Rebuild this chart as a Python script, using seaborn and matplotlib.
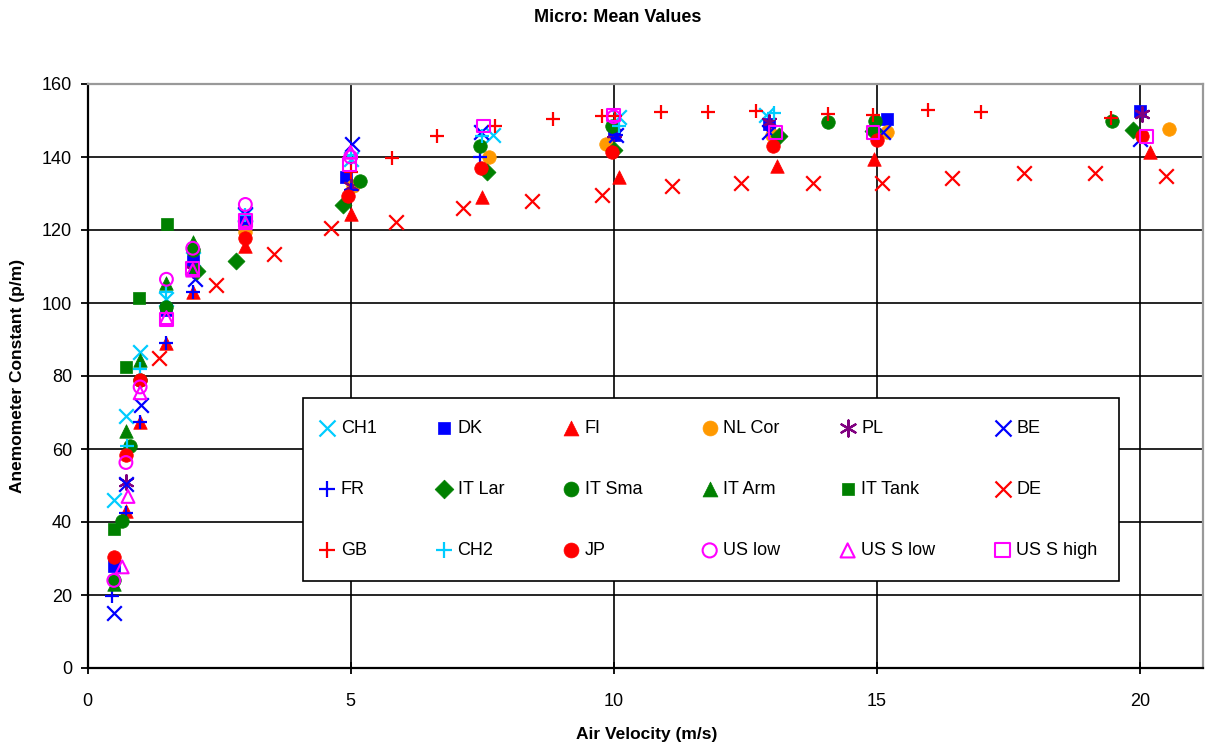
import matplotlib
matplotlib.use("Agg")
import matplotlib.pyplot as plt
import seaborn as sns

# ---------------- data ----------------
CH1_v = [0.5, 0.73, 1.0, 1.5, 2.0, 3.0, 5.0, 7.7, 10.1, 12.9]
CH1_y = [46, 69, 86.5, 101, 112, 124, 139.5, 146, 151, 151.5]

DK_v = [0.5, 1.5, 2.0, 3.0, 4.92, 10.0, 12.95, 15.2, 20.0]
DK_y = [28, 98, 111.5, 123, 134.5, 146, 149, 150.5, 152.5]

FI_v = [0.73, 1.0, 1.5, 2.0, 3.0, 5.0, 7.5, 10.1, 13.1, 14.95, 20.2]
FI_y = [43, 67.5, 89, 103, 115.5, 124.3, 129, 134.5, 137.5, 139.4, 141.3]

NL_v = [3.0, 5.05, 7.63, 9.85, 13.0, 15.2, 20.55]
NL_y = [119.5, 132, 140, 143.5, 146, 146.8, 147.8]

PL_v = [0.73, 2.0, 5.0, 10.0, 12.95, 20.05]
PL_y = [51, 109, 132, 146.5, 149.5, 151.8]

BE_v = [0.5, 0.73, 1.02, 2.05, 3.0, 5.02, 7.47, 10.05, 12.95, 15.12, 20.0]
BE_y = [15, 50.5, 72, 106.5, 124.5, 143.5, 146.8, 146, 146.8, 146.8, 144.8]

FR_v = [0.47, 0.73, 1.0, 1.5, 2.0, 5.0, 7.45, 10.05]
FR_y = [19.8, 42.5, 67.5, 89, 103, 131, 140, 146]

ITLar_v = [2.08, 2.82, 4.86, 7.6, 10.0, 13.15, 14.93, 19.87]
ITLar_y = [108.7, 111.4, 126.8, 136, 142, 145.7, 147, 147.4]

ITSma_v = [0.5, 0.66, 0.8, 1.0, 1.5, 2.0, 5.18, 7.45, 9.96, 14.07, 14.97, 19.47]
ITSma_y = [24, 40.3, 60.7, 79, 99, 114.5, 133.4, 143, 148.4, 149.5, 150, 150]

ITArm_v = [0.5, 0.73, 1.0, 1.5, 2.0]
ITArm_y = [23, 64.8, 84.5, 105.6, 116.6]

ITTank_v = [0.5, 0.73, 0.98, 1.51]
ITTank_y = [38, 82.6, 101.3, 121.6]

DE_v = [1.36, 2.44, 3.54, 4.63, 5.86, 7.14, 8.45, 9.77, 11.1, 12.42, 13.78, 15.1, 16.43, 17.79, 19.15, 20.49]
DE_y = [85, 105, 113.5, 120.5, 122.3, 126, 128, 129.5, 132, 133, 133, 133, 134.2, 135.7, 135.7, 134.7]

GB_v = [5.0, 5.78, 6.64, 7.75, 8.85, 9.77, 10.02, 10.9, 11.8, 12.7, 14.08, 14.92, 15.97, 16.98, 19.45]
GB_y = [135.8, 139.8, 145.8, 148.5, 150.5, 151.3, 151.3, 152.2, 152.2, 152.7, 151.7, 151.5, 152.8, 152.3, 150.7]

CH2_v = [0.75, 1.0, 1.5, 3.0, 5.0, 7.5, 10.1, 13.05]
CH2_y = [60.7, 82, 103, 124, 140.5, 145.8, 148.4, 152]

JP_v = [0.5, 0.73, 1.0, 3.0, 4.95, 7.47, 9.97, 13.02, 15.0, 20.04]
JP_y = [30.4, 58.4, 79, 117.7, 129.3, 137, 141.3, 143, 144.6, 145.7]

USlow_v = [0.5, 0.73, 1.0, 1.5, 2.0, 3.0, 5.0, 10.0]
USlow_y = [24, 56.3, 77, 106.5, 115, 127, 140, 151]

USSlow_v = [0.66, 0.77, 1.0, 1.5, 2.0, 3.0, 5.0]
USSlow_y = [27.7, 47, 75.4, 96, 109, 122, 141.3]

USShigh_v = [1.5, 2.0, 3.0, 4.98, 7.52, 10.0, 13.08, 14.93, 20.13]
USShigh_y = [95.5, 109.5, 122.5, 138, 148.5, 151.5, 146.8, 146.8, 145.7]

x_ticks = [0, 5, 10, 15, 20]
y_ticks = [0, 20, 40, 60, 80, 100, 120, 140, 160]

title = "Micro: Mean Values"
x_label = "Air Velocity (m/s)"
y_label = "Anemometer Constant (p/m)"

# ---------------- styling ----------------
sns.set_theme(style="white")
plt.rcParams['font.family'] = ['Liberation Sans', 'DejaVu Sans']
plt.rcParams['text.color'] = 'black'
plt.rcParams['axes.labelcolor'] = 'black'
plt.rcParams['xtick.color'] = 'black'
plt.rcParams['ytick.color'] = 'black'

CYAN = "#00CCFF"
BLUE = "#0000FF"
RED = "#FF0000"
ORANGE = "#FF9900"
PURPLE = "#800080"
GREEN = "#008000"
MAG = "#FF00FF"

# label, x, y, marker, color, kind ('fill', 'line', 'hollow')
series = [
    ("CH1", CH1_v, CH1_y, "x", CYAN, "line"),
    ("DK", DK_v, DK_y, "s", BLUE, "fill"),
    ("FI", FI_v, FI_y, "^", RED, "fill"),
    ("NL Cor", NL_v, NL_y, "o", ORANGE, "fill"),
    ("PL", PL_v, PL_y, (6, 2, 0), PURPLE, "line"),
    ("BE", BE_v, BE_y, "x", BLUE, "line"),
    ("FR", FR_v, FR_y, "+", BLUE, "line"),
    ("IT Lar", ITLar_v, ITLar_y, "D", GREEN, "fill"),
    ("IT Sma", ITSma_v, ITSma_y, "o", GREEN, "fill"),
    ("IT Arm", ITArm_v, ITArm_y, "^", GREEN, "fill"),
    ("IT Tank", ITTank_v, ITTank_y, "s", GREEN, "fill"),
    ("DE", DE_v, DE_y, "x", RED, "line"),
    ("GB", GB_v, GB_y, "+", RED, "line"),
    ("CH2", CH2_v, CH2_y, "+", CYAN, "line"),
    ("JP", JP_v, JP_y, "o", RED, "fill"),
    ("US low", USlow_v, USlow_y, "o", MAG, "hollow"),
    ("US S low", USSlow_v, USSlow_y, "^", MAG, "hollow"),
    ("US S high", USShigh_v, USShigh_y, "s", MAG, "hollow"),
]

W, H = 1209, 749
fig = plt.figure(figsize=(W / 100, H / 100), dpi=100)
fig.patch.set_facecolor("white")
L, R, T, B = 87.5, 1203, 84, 668
ax = fig.add_axes([L / W, 1 - B / H, (R - L) / W, (B - T) / H])
ax.set_facecolor("white")

for i, (lab, xv, yv, m, c, kind) in enumerate(series):
    kws = dict(x=xv, y=yv, ax=ax, marker=m, color=c, label=lab, zorder=3 + i * 0.01)
    if kind == "fill":
        if m == "D":
            size = 75
        elif m == "s":
            size = 72
        else:
            size = 95
        kws.update(s=size, edgecolor=c, linewidth=0.5)
    elif kind == "hollow":
        kws.update(s=85, facecolor="none", edgecolor=c, linewidth=1.5)
    else:
        kws.update(s=110, linewidth=1.6)
    sns.scatterplot(**kws)

ax.set_xlim(0, 21.2)
ax.set_ylim(0, 160)
ax.set_xticks(x_ticks)
ax.set_yticks(y_ticks)
ax.set_xticklabels([str(t) for t in x_ticks])
ax.set_yticklabels([str(t) for t in y_ticks])

ax.grid(True, color="black", linewidth=1.2)
ax.set_axisbelow(True)
for s in ["left", "bottom"]:
    ax.spines[s].set_color("black")
    ax.spines[s].set_linewidth(1.6)
for s in ["top", "right"]:
    ax.spines[s].set_color("#999999")
    ax.spines[s].set_linewidth(1.6)

ax.tick_params(axis="y", direction="out", length=5, width=1.3, color="black",
               labelcolor="black", labelsize=13, pad=6, left=True)
ax.tick_params(axis="x", direction="inout", length=8, width=1.3, color="black",
               labelcolor="black", labelsize=13, pad=14, bottom=True)
ax.set_xlabel("")
ax.set_ylabel("")

fig.text(618 / W, 1 - 18 / H, title, ha="center", va="center",
         fontsize=13, fontweight="bold", color="black")
fig.text(647 / W, 1 - 735 / H, x_label, ha="center", va="center",
         fontsize=12.5, fontweight="bold", color="black")
fig.text(18 / W, 1 - 376 / H, y_label, ha="center", va="center",
         rotation=90, fontsize=12.5, fontweight="bold", color="black")

# legend: fill row-wise (matplotlib fills column-wise)
handles, labels = ax.get_legend_handles_labels()
ncol = 6
nrow = 3
order = [r * ncol + c for c in range(ncol) for r in range(nrow)]
handles = [handles[k] for k in order]
labels = [labels[k] for k in order]
x0 = (303 - L) / (R - L)
x1 = (1119 - L) / (R - L)
y1 = (B - 398) / (B - T)
y0 = (B - 580) / (B - T)
leg = ax.legend(handles, labels, ncol=ncol, loc="upper left",
                bbox_to_anchor=(x0, y0, x1 - x0, y1 - y0), mode="expand",
                borderaxespad=0, fontsize=13, frameon=True, fancybox=False,
                framealpha=1, edgecolor="black", borderpad=1.2,
                labelspacing=2.45, handlelength=0.3, handletextpad=0.6,
                scatterpoints=1, columnspacing=0.5, markerscale=1.1,
                labelcolor="black")
leg.get_frame().set_linewidth(1.2)
leg.set_zorder(10)

fig.savefig("out.png", dpi=100, facecolor="white")
